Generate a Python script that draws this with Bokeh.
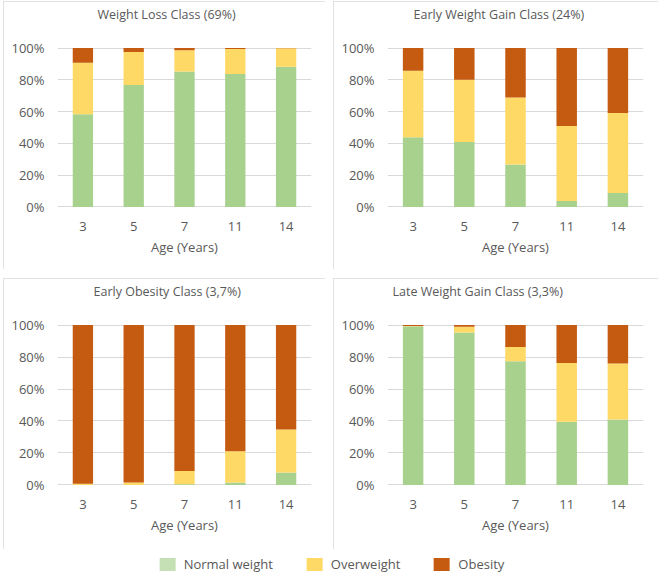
from bokeh.plotting import figure
from bokeh.layouts import column, row
from bokeh.models import (ColumnDataSource, FactorRange, Range1d, PrintfTickFormatter,
                          FixedTicker, Legend, LegendItem, Title)
from bokeh.embed import file_html
from bokeh.resources import INLINE

ages = ["3", "5", "7", "11", "14"]
series = ["Normal weight", "Overweight", "Obesity"]
colors = ["#A9D18E", "#FFD966", "#C55A11"]
legend_colors = ["#C5E0B4", "#FFD966", "#C55A11"]
y_ticks = [0, 20, 40, 60, 80, 100]
x_label = "Age (Years)"

titles = ["Weight Loss Class (69%)", "Early Weight Gain Class (24%)",
          "Early Obesity Class (3,7%)", "Late Weight Gain Class (3,3%)"]

wl_normal = [58.4, 76.8, 85.3, 83.6, 88.2]
wl_over = [32.3, 20.7, 13.3, 15.8, 11.6]
wl_obese = [9.3, 2.5, 1.4, 0.6, 0.2]

ewg_normal = [43.9, 40.8, 26.7, 3.7, 8.7]
ewg_over = [41.8, 39.3, 42.2, 47.2, 50.5]
ewg_obese = [14.3, 19.9, 31.1, 49.1, 40.8]

eo_normal = [0.0, 0.0, 0.4, 1.6, 7.8]
eo_over = [0.8, 1.6, 8.3, 19.4, 26.8]
eo_obese = [99.2, 98.4, 91.3, 79.0, 65.4]

lwg_normal = [99.2, 95.3, 77.3, 39.6, 41.0]
lwg_over = [0.2, 3.7, 8.9, 36.7, 34.9]
lwg_obese = [0.6, 1.0, 13.8, 23.7, 24.1]

FONT = "Open Sans"
TXT = "#595959"
GRID = "#D9D9D9"


def make_panel(title, normal, over, obese, width, height, right, bottom, title_offset):
    src = ColumnDataSource(dict(age=ages, **{series[0]: normal, series[1]: over, series[2]: obese}))
    p = figure(width=width, height=height, x_range=FactorRange(*ages), y_range=Range1d(-0.35, 100.35),
               output_backend="svg", toolbar_location=None,
               min_border_left=54, min_border_right=right, min_border_top=45, min_border_bottom=bottom)
    p.vbar_stack(series, x="age", width=0.4, color=colors, line_color=None, source=src)
    # gap between the title and the plot area
    p.add_layout(Title(text=" ", text_font_size="10px", standoff=5), "above")
    p.title.text = title
    p.title.align = "left"
    p.title.offset = title_offset
    p.title.vertical_align = "top"
    p.title.text_font = FONT
    p.title.text_font_size = "12.5px"
    p.title.text_font_style = "normal"
    p.title.text_color = TXT
    p.title.standoff = 9
    p.outline_line_color = None
    p.xgrid.visible = False
    p.ygrid.grid_line_color = GRID
    p.ygrid.ticker = FixedTicker(ticks=y_ticks)
    p.yaxis.ticker = FixedTicker(ticks=y_ticks)
    p.yaxis.formatter = PrintfTickFormatter(format="%d%%")
    for ax in (p.xaxis[0], p.yaxis[0]):
        ax.axis_line_color = None
        ax.major_tick_line_color = None
        ax.minor_tick_line_color = None
        ax.major_tick_out = 0
        ax.major_tick_in = 0
        ax.major_label_text_font = FONT
        ax.major_label_text_font_size = "13px"
        ax.major_label_text_color = TXT
    p.yaxis.major_label_standoff = 13
    p.xaxis.major_label_standoff = 14
    p.xaxis.axis_label = x_label
    p.xaxis.axis_label_text_font = FONT
    p.xaxis.axis_label_text_font_size = "13px"
    p.xaxis.axis_label_text_font_style = "normal"
    p.xaxis.axis_label_text_color = TXT
    p.xaxis.axis_label_standoff = 4
    p.styles = {"outline": "1px solid #D9D9D9", "outline-offset": "-1px"}
    return p


p1 = make_panel(titles[0], wl_normal, wl_over, wl_obese, 322, 268, 14, 62, 40)
p2 = make_panel(titles[1], ewg_normal, ewg_over, ewg_obese, 325, 268, 15, 62, 26)
p3 = make_panel(titles[2], eo_normal, eo_over, eo_obese, 322, 271, 14, 64, 36)
p4 = make_panel(titles[3], lwg_normal, lwg_over, lwg_obese, 325, 271, 15, 64, 5)

lf = figure(width=655, height=26, x_range=Range1d(0, 1), y_range=Range1d(0, 1),
            output_backend="svg", toolbar_location=None, min_border=0, outline_line_color=None)
lf.axis.visible = False
lf.grid.visible = False
items = []
for s, c in zip(series, legend_colors):
    r = lf.vbar(x=[-5], top=[-5], width=0.1, fill_color=c, line_color=None)
    items.append(LegendItem(label=s, renderers=[r]))
leg = Legend(items=items, orientation="horizontal", location="bottom_center",
             border_line_color=None, background_fill_alpha=0,
             glyph_width=20, glyph_height=16, label_standoff=7, spacing=31,
             padding=0, margin=2, label_text_font=FONT, label_text_font_size="13px",
             label_text_color=TXT)
lf.add_layout(leg, "center")

layout = column(row(p1, p2, spacing=8), row(p3, p4, spacing=8), lf, spacing=0)
layout.children[1].margin = (9, 0, 0, 0)
layout.margin = (1, 0, 0, 3)

open("out.html", "w").write(file_html(layout, INLINE))
